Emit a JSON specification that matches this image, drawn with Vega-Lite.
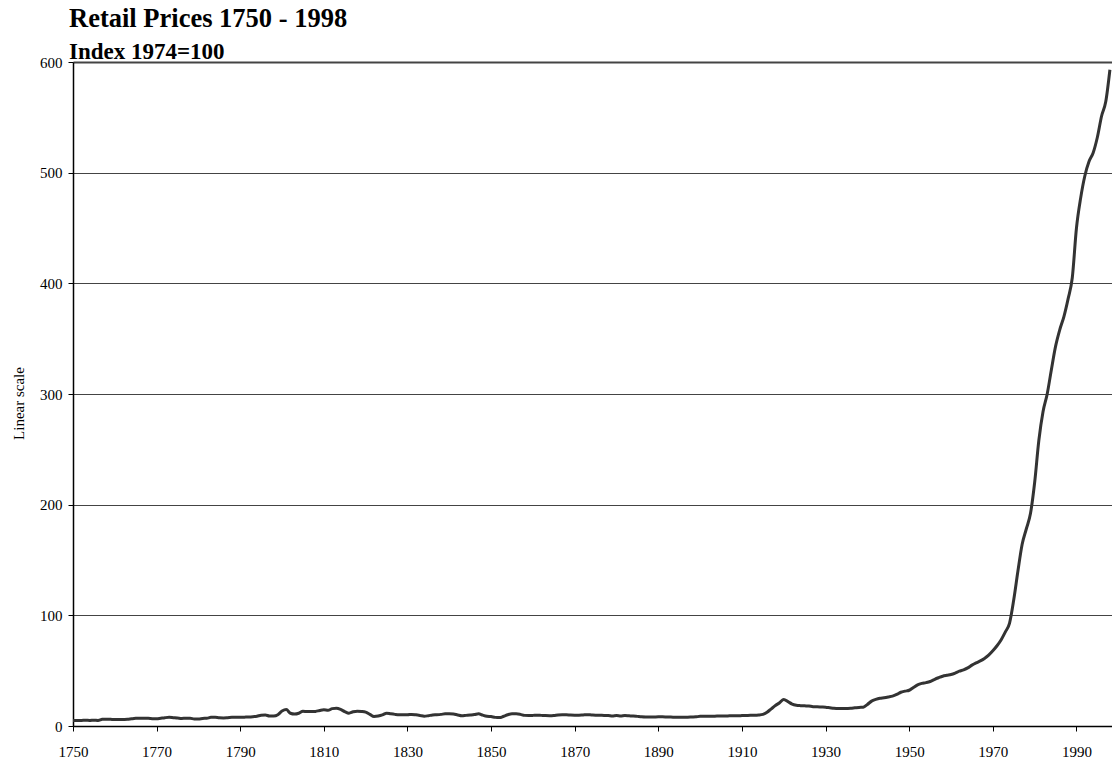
{
  "$schema": "https://vega.github.io/schema/vega-lite/v6.json",
  "width": 1039,
  "height": 664,
  "autosize": "none",
  "padding": {"left": 73, "top": 62, "right": 0, "bottom": 41},
  "background": "white",
  "title": {
    "text": "Retail Prices 1750 - 1998",
    "subtitle": "Index 1974=100",
    "anchor": "start",
    "frame": "group",
    "font": "Liberation Serif",
    "fontSize": 26.5,
    "fontWeight": "bold",
    "color": "black",
    "subtitleFont": "Liberation Serif",
    "subtitleFontSize": 23,
    "subtitleFontWeight": "bold",
    "subtitleColor": "black",
    "subtitlePadding": 9,
    "dx": -4,
    "offset": -9
  },
  "config": {"view": {"stroke": null}, "font": "Liberation Serif"},
  "data": {
    "values": [
      {"year": 1750, "value": 5.0}, {"year": 1751, "value": 5.0}, {"year": 1752, "value": 5.0}, {"year": 1753, "value": 5.2}, {"year": 1754, "value": 5.0},
      {"year": 1755, "value": 5.3}, {"year": 1756, "value": 5.0}, {"year": 1757, "value": 6.0}, {"year": 1758, "value": 6.2}, {"year": 1759, "value": 6.0},
      {"year": 1760, "value": 5.8}, {"year": 1761, "value": 5.8}, {"year": 1762, "value": 5.9}, {"year": 1763, "value": 6.0}, {"year": 1764, "value": 6.5},
      {"year": 1765, "value": 6.9}, {"year": 1766, "value": 7.0}, {"year": 1767, "value": 7.0}, {"year": 1768, "value": 6.9}, {"year": 1769, "value": 6.6},
      {"year": 1770, "value": 6.5}, {"year": 1771, "value": 7.0}, {"year": 1772, "value": 7.5}, {"year": 1773, "value": 7.8}, {"year": 1774, "value": 7.5},
      {"year": 1775, "value": 7.2}, {"year": 1776, "value": 6.8}, {"year": 1777, "value": 7.0}, {"year": 1778, "value": 7.0}, {"year": 1779, "value": 6.4},
      {"year": 1780, "value": 6.3}, {"year": 1781, "value": 6.8}, {"year": 1782, "value": 7.0}, {"year": 1783, "value": 7.8}, {"year": 1784, "value": 7.8},
      {"year": 1785, "value": 7.4}, {"year": 1786, "value": 7.3}, {"year": 1787, "value": 7.5}, {"year": 1788, "value": 7.8}, {"year": 1789, "value": 7.8},
      {"year": 1790, "value": 7.9}, {"year": 1791, "value": 8.0}, {"year": 1792, "value": 8.1}, {"year": 1793, "value": 8.4}, {"year": 1794, "value": 8.9},
      {"year": 1795, "value": 9.8}, {"year": 1796, "value": 10.0}, {"year": 1797, "value": 9.0}, {"year": 1798, "value": 9.0}, {"year": 1799, "value": 10.2},
      {"year": 1800, "value": 13.5}, {"year": 1801, "value": 14.8}, {"year": 1802, "value": 11.5}, {"year": 1803, "value": 10.8}, {"year": 1804, "value": 11.5},
      {"year": 1805, "value": 13.3}, {"year": 1806, "value": 13.0}, {"year": 1807, "value": 13.0}, {"year": 1808, "value": 13.2}, {"year": 1809, "value": 14.0},
      {"year": 1810, "value": 14.6}, {"year": 1811, "value": 14.2}, {"year": 1812, "value": 15.7}, {"year": 1813, "value": 16.0}, {"year": 1814, "value": 15.0},
      {"year": 1815, "value": 13.0}, {"year": 1816, "value": 11.6}, {"year": 1817, "value": 12.8}, {"year": 1818, "value": 13.3}, {"year": 1819, "value": 13.1},
      {"year": 1820, "value": 12.5}, {"year": 1821, "value": 10.5}, {"year": 1822, "value": 8.6}, {"year": 1823, "value": 9.0}, {"year": 1824, "value": 10.0},
      {"year": 1825, "value": 11.6}, {"year": 1826, "value": 11.0}, {"year": 1827, "value": 10.5}, {"year": 1828, "value": 10.2}, {"year": 1829, "value": 10.2},
      {"year": 1830, "value": 10.2}, {"year": 1831, "value": 10.5}, {"year": 1832, "value": 10.1}, {"year": 1833, "value": 9.5}, {"year": 1834, "value": 8.8},
      {"year": 1835, "value": 9.3}, {"year": 1836, "value": 10.0}, {"year": 1837, "value": 10.2}, {"year": 1838, "value": 10.5}, {"year": 1839, "value": 11.0},
      {"year": 1840, "value": 11.1}, {"year": 1841, "value": 10.8}, {"year": 1842, "value": 10.0}, {"year": 1843, "value": 9.3}, {"year": 1844, "value": 9.6},
      {"year": 1845, "value": 9.9}, {"year": 1846, "value": 10.3}, {"year": 1847, "value": 11.1}, {"year": 1848, "value": 9.8}, {"year": 1849, "value": 8.8},
      {"year": 1850, "value": 8.5}, {"year": 1851, "value": 7.8}, {"year": 1852, "value": 7.6}, {"year": 1853, "value": 8.8}, {"year": 1854, "value": 10.2},
      {"year": 1855, "value": 11.0}, {"year": 1856, "value": 11.0}, {"year": 1857, "value": 10.5}, {"year": 1858, "value": 9.6}, {"year": 1859, "value": 9.5},
      {"year": 1860, "value": 9.6}, {"year": 1861, "value": 9.8}, {"year": 1862, "value": 9.6}, {"year": 1863, "value": 9.4}, {"year": 1864, "value": 9.3},
      {"year": 1865, "value": 9.5}, {"year": 1866, "value": 10.0}, {"year": 1867, "value": 10.2}, {"year": 1868, "value": 10.2}, {"year": 1869, "value": 9.9},
      {"year": 1870, "value": 9.8}, {"year": 1871, "value": 9.8}, {"year": 1872, "value": 10.0}, {"year": 1873, "value": 10.2}, {"year": 1874, "value": 10.0},
      {"year": 1875, "value": 9.8}, {"year": 1876, "value": 9.7}, {"year": 1877, "value": 9.6}, {"year": 1878, "value": 9.5}, {"year": 1879, "value": 9.0},
      {"year": 1880, "value": 9.4}, {"year": 1881, "value": 9.0}, {"year": 1882, "value": 9.4}, {"year": 1883, "value": 9.2}, {"year": 1884, "value": 9.0},
      {"year": 1885, "value": 8.7}, {"year": 1886, "value": 8.4}, {"year": 1887, "value": 8.2}, {"year": 1888, "value": 8.1}, {"year": 1889, "value": 8.2},
      {"year": 1890, "value": 8.3}, {"year": 1891, "value": 8.3}, {"year": 1892, "value": 8.2}, {"year": 1893, "value": 8.1}, {"year": 1894, "value": 7.9},
      {"year": 1895, "value": 7.8}, {"year": 1896, "value": 7.8}, {"year": 1897, "value": 7.9}, {"year": 1898, "value": 8.1}, {"year": 1899, "value": 8.3},
      {"year": 1900, "value": 8.7}, {"year": 1901, "value": 8.7}, {"year": 1902, "value": 8.8}, {"year": 1903, "value": 8.8}, {"year": 1904, "value": 9.0},
      {"year": 1905, "value": 9.0}, {"year": 1906, "value": 9.0}, {"year": 1907, "value": 9.2}, {"year": 1908, "value": 9.3}, {"year": 1909, "value": 9.3},
      {"year": 1910, "value": 9.4}, {"year": 1911, "value": 9.5}, {"year": 1912, "value": 9.7}, {"year": 1913, "value": 9.7}, {"year": 1914, "value": 9.9},
      {"year": 1915, "value": 10.5}, {"year": 1916, "value": 12.5}, {"year": 1917, "value": 15.5}, {"year": 1918, "value": 18.5}, {"year": 1919, "value": 21.0},
      {"year": 1920, "value": 24.0}, {"year": 1921, "value": 22.0}, {"year": 1922, "value": 19.8}, {"year": 1923, "value": 18.8}, {"year": 1924, "value": 18.4},
      {"year": 1925, "value": 18.2}, {"year": 1926, "value": 18.0}, {"year": 1927, "value": 17.5}, {"year": 1928, "value": 17.4}, {"year": 1929, "value": 17.2},
      {"year": 1930, "value": 17.0}, {"year": 1931, "value": 16.5}, {"year": 1932, "value": 16.0}, {"year": 1933, "value": 15.8}, {"year": 1934, "value": 15.8},
      {"year": 1935, "value": 15.9}, {"year": 1936, "value": 16.0}, {"year": 1937, "value": 16.4}, {"year": 1938, "value": 16.8}, {"year": 1939, "value": 17.0},
      {"year": 1940, "value": 19.5}, {"year": 1941, "value": 22.5}, {"year": 1942, "value": 24.0}, {"year": 1943, "value": 25.0}, {"year": 1944, "value": 25.5},
      {"year": 1945, "value": 26.2}, {"year": 1946, "value": 27.0}, {"year": 1947, "value": 28.5}, {"year": 1948, "value": 30.5}, {"year": 1949, "value": 31.5},
      {"year": 1950, "value": 32.3}, {"year": 1951, "value": 34.8}, {"year": 1952, "value": 37.2}, {"year": 1953, "value": 38.5}, {"year": 1954, "value": 39.2},
      {"year": 1955, "value": 40.2}, {"year": 1956, "value": 42.0}, {"year": 1957, "value": 43.6}, {"year": 1958, "value": 45.0}, {"year": 1959, "value": 45.8},
      {"year": 1960, "value": 46.5}, {"year": 1961, "value": 47.8}, {"year": 1962, "value": 49.5}, {"year": 1963, "value": 50.8}, {"year": 1964, "value": 52.5},
      {"year": 1965, "value": 55.0}, {"year": 1966, "value": 57.0}, {"year": 1967, "value": 58.8}, {"year": 1968, "value": 61.0}, {"year": 1969, "value": 64.0},
      {"year": 1970, "value": 68.0}, {"year": 1971, "value": 72.5}, {"year": 1972, "value": 78.0}, {"year": 1973, "value": 85.0}, {"year": 1974, "value": 93.0},
      {"year": 1975, "value": 114.0}, {"year": 1976, "value": 140.0}, {"year": 1977, "value": 164.0}, {"year": 1978, "value": 178.0}, {"year": 1979, "value": 192.0},
      {"year": 1980, "value": 220.0}, {"year": 1981, "value": 258.0}, {"year": 1982, "value": 284.0}, {"year": 1983, "value": 300.0}, {"year": 1984, "value": 322.0},
      {"year": 1985, "value": 343.0}, {"year": 1986, "value": 358.0}, {"year": 1987, "value": 370.0}, {"year": 1988, "value": 386.0}, {"year": 1989, "value": 405.0},
      {"year": 1990, "value": 450.0}, {"year": 1991, "value": 477.0}, {"year": 1992, "value": 497.0}, {"year": 1993, "value": 510.0}, {"year": 1994, "value": 518.0},
      {"year": 1995, "value": 532.0}, {"year": 1996, "value": 551.0}, {"year": 1997, "value": 564.0}, {"year": 1998, "value": 593.0}
    ]
  },
  "mark": {"type": "line", "color": "#333333", "strokeWidth": 3, "interpolate": "monotone"},
  "encoding": {
    "x": {
      "field": "year",
      "type": "quantitative",
      "scale": {"domain": [1750, 1998.5], "nice": false, "zero": false},
      "axis": {
        "values": [1750, 1770, 1790, 1810, 1830, 1850, 1870, 1890, 1910, 1930, 1950, 1970, 1990],
        "format": "d",
        "title": null,
        "grid": false,
        "tickSize": 5,
        "tickColor": "black",
        "labelPadding": 13,
        "labelFont": "Liberation Serif",
        "labelFontSize": 15,
        "labelColor": "black",
        "labelFlush": false,
        "labelOverlap": false,
        "domainColor": "black",
        "domainWidth": 1.5
      }
    },
    "y": {
      "field": "value",
      "type": "quantitative",
      "scale": {"domain": [0, 600], "nice": false},
      "axis": {
        "values": [0, 100, 200, 300, 400, 500, 600],
        "title": "Linear scale",
        "titleFont": "Liberation Serif",
        "titleFontSize": 15,
        "titleFontWeight": "normal",
        "titleColor": "black",
        "titleAngle": -90,
        "titleX": -55,
        "titleY": 341,
        "titleAlign": "center",
        "titleBaseline": "middle",
        "grid": true,
        "gridColor": "#444444",
        "gridWidth": {"condition": {"test": "datum.value == 600", "value": 2}, "value": 1},
        "tickSize": 5,
        "tickColor": "black",
        "labelPadding": 6,
        "labelFont": "Liberation Serif",
        "labelFontSize": 15,
        "labelColor": "black",
        "labelFlush": false,
        "labelOverlap": false,
        "domainColor": "black",
        "domainWidth": 1.5
      }
    }
  }
}
